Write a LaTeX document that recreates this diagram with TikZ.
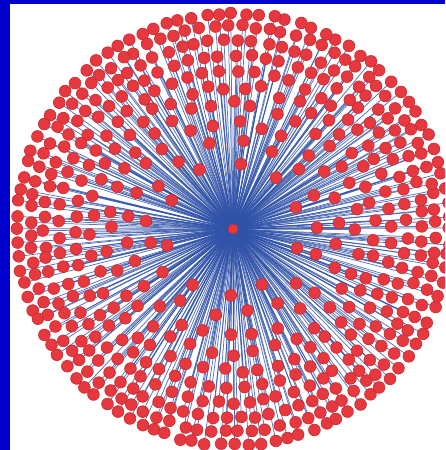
\documentclass[tikz,border=0pt]{standalone}
\definecolor{framecol}{RGB}{0,0,204}
\definecolor{edgecol}{RGB}{48,82,168}
\definecolor{vfill}{RGB}{230,56,62}
\definecolor{vdraw}{RGB}{195,45,50}
\tikzset{
  vtx/.style={circle,fill=vfill,draw=vdraw,line width=0.6pt,minimum size=11.8pt,inner sep=0pt},
  edge/.style={draw=edgecol,line width=0.75pt,opacity=0.8}
}
\begin{document}
\begin{tikzpicture}[x=1pt,y=1pt]
\useasboundingbox (0,0) rectangle (445,450);
\fill[framecol] (0,0) rectangle (445,450);
\fill[white] (10,0) rectangle (445,446);
\clip (10,0) rectangle (445,446);
\pgfmathsetseed{12}
\begin{scope}[shift={(233,221)}]
\coordinate (cc) at (0,0);
\foreach \r/\n/\o [count=\k] in {216/100/0, 203/92/1.7, 189/82/0.6, 174/70/2.2, 158/58/1.1, 142/48/3.0, 125/36/0.4, 106/26/5.0, 86/17/2.0, 66/10/14}{
  \foreach \i in {1,...,\n}{
    \pgfmathsetmacro\ang{360/\n*(\i+0.18*rand)+\o}
    \pgfmathsetmacro\rad{\r+(\r<150 ? 3.5 : 1.3)*rand}
    \coordinate (p\k-\i) at (\ang:\rad);
  }
}
\foreach \n [count=\k] in {100,92,82,70,58,48,36,26,17,10}{
  \foreach \i in {1,...,\n}{
    \draw[edge] (cc) -- (p\k-\i);
  }
}
\foreach \n [count=\k] in {100,92,82,70,58,48,36,26,17,10}{
  \foreach \i in {1,...,\n}{
    \node[vtx] (v\k-\i) at (p\k-\i) {};
  }
}
\node[vtx,minimum size=10pt] (c) at (cc) {};
\end{scope}
\end{tikzpicture}
\end{document}
